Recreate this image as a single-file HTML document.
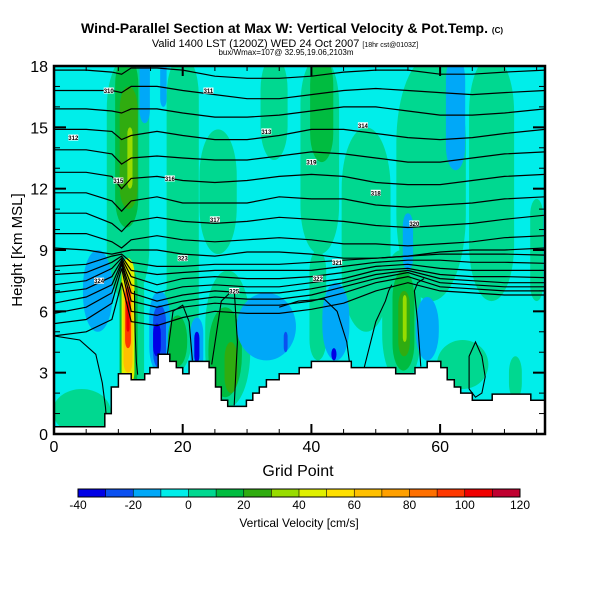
<!DOCTYPE html>
<html><head><meta charset="utf-8"><style>
body{margin:0;background:#fff;}
svg{display:block;font-family:"Liberation Sans",Arial,sans-serif;}
</style></head><body>
<svg id="chart" width="600" height="600" viewBox="0 0 600 600">
<text x="292" y="33" text-anchor="middle" font-size="14" font-weight="bold">Wind-Parallel Section at Max W: Vertical Velocity &amp; Pot.Temp. <tspan font-size="8">(C)</tspan></text>
<text x="285" y="47" text-anchor="middle" font-size="11">Valid 1400 LST (1200Z) WED 24 Oct 2007 <tspan font-size="7">[18hr cst@0103Z]</tspan></text>
<text x="286" y="55" text-anchor="middle" font-size="8">bux/Wmax=107@ 32.95,19.06,2103m</text>
<defs><clipPath id="pc"><rect x="54" y="66" width="491" height="368"/></clipPath></defs>
<g id="plot" clip-path="url(#pc)"></g>
<g id="axes"></g>
<g id="cbar"></g>
<text x="298" y="476" text-anchor="middle" font-size="16">Grid Point</text>
<text transform="translate(22,250) rotate(-90)" text-anchor="middle" font-size="15">Height [Km MSL]</text>
<text x="299" y="527" text-anchor="middle" font-size="12">Vertical Velocity [cm/s]</text>
</svg>
<script>
// ---- data ----
const cbLevels = [-40,-30,-20,-10,0,10,20,30,40,50,60,70,80,90,100,110,120];
const cbColors = ["#0000e6","#0a50f0","#00a8f8","#00eeea","#00d890","#00bc40","#30ac10","#98dc00","#e0f000","#ffe000","#ffc000","#ffa000","#ff7000","#ff3800","#f00000","#c00030"];
const cbTicks = [-40,-20,0,20,40,60,80,100,120];
const xTicks = [0,20,40,60];
const yTicks = [0,3,6,9,12,15,18];
// vertical-velocity features: center grid point, half width, bottom km, top km, value cm/s
const featX   = [11.5,11.3,11.6,11.8,14.1,17,20,25.5,34.2,41.3,41.6,48.5,58.6,62.4,68,55,75,6.8,12.1,11.6,11.5,11.5,11.5,11.5,4.3,16.4,16.4,16,19,19.2,22.2,22.2,27,26.6,27.5,33,36,54,54.3,54.4,54.5,58,43.8,43.5,63.5,71.7,41];
const featW   = [3.3,1.8,1.4,0.4,0.8,0.5,2.5,2.9,2.1,3,1.8,3.8,5.4,1.5,3.5,0.8,1,2.3,1.9,1.4,1.0,0.7,0.45,0.25,4.5,1.6,1,0.6,2.5,1.5,1.0,0.4,3.5,2.6,1,4.6,0.3,3,1.7,0.9,0.3,1.8,2.1,0.4,4,1,1.3];
const featBot = [6.5,10.1,11,12,15.2,16,4,8.8,13.4,8.8,13.3,5,6.5,12.9,6.5,8,6.5,5,0,2,2.3,3,4.2,5,0,3,3.2,3.8,3,3.3,3,3.5,1.3,1.8,2,3.6,4,2.5,3.1,3.8,4.5,3.6,3.6,3.6,2.2,1.7,3.6];
const featTop = [18.5,18.5,17,15,18.5,18.5,18.5,14.9,18.5,18.5,18.5,15,18.5,18.5,18.5,10.8,11.5,9,8.5,8.2,8.6,7.5,7.2,6.5,2.2,7,6.3,5.4,7.5,5.8,5.7,5,8,6.2,4.5,6.9,5,9,8,7,6.8,6.7,7.4,4.2,4.6,3.8,9];
const featVal = [5,15,25,35,-15,-15,5,5,5,5,15,5,5,-15,5,-15,5,-15,5,15,45,65,95,105,5,-15,-25,-35,5,15,-15,-35,5,15,25,-15,-25,5,15,25,35,-15,-15,-35,5,5,5];
// terrain steps: start grid point, height km
const terrG = [0,7.9,8.9,10,12,14.1,14.9,16.2,18,19,20,21,24.1,25.1,26,27,29.9,30.9,31.9,33,35,38.1,40,46.2,53.1,56.1,58,60.1,61.1,62.2,63.2,65,68.1,74.1];
const terrH = [0.35,1.0,2.3,2.95,2.65,2.95,3.25,3.9,3.55,3.25,2.95,3.55,3.25,2.3,1.65,1.35,1.65,2.0,2.3,2.65,2.95,3.25,3.55,3.25,2.95,3.25,3.55,3.25,2.65,2.3,2.0,1.65,1.95,1.65];
// potential temperature contours: heights (km) at grid points thetaG
const thetaG = [0,5,9,10.5,12,16,20,25,30,35,40,45,50,55,60,65,70,76.3];
const theta1 = [17.8,17.8,17.7,17.6,17.9,17.9,17.8,17.5,17.4,17.4,17.5,17.7,17.8,17.8,17.6,17.6,17.7,17.8];
const theta2 = [16.8,16.8,16.8,16.7,17.0,17.0,16.8,16.6,16.4,16.4,16.6,16.8,16.9,16.8,16.7,16.6,16.7,16.8];
const theta3 = [15.9,15.9,15.8,15.7,15.9,15.9,15.7,15.5,15.5,15.6,15.8,16.0,16.0,15.8,15.6,15.6,15.7,15.9];
const theta4 = [14.9,14.9,14.8,14.4,14.6,14.8,14.6,14.4,14.4,14.6,14.9,14.9,14.7,14.5,14.4,14.5,14.7,14.9];
const theta5 = [13.9,13.9,13.7,13.2,13.5,13.6,13.5,13.4,13.4,13.6,13.8,13.7,13.5,13.3,13.3,13.5,13.7,13.8];
const theta6 = [12.8,12.8,12.6,12.0,12.5,12.6,12.4,12.3,12.4,12.6,12.7,12.6,12.3,12.2,12.2,12.4,12.6,12.7];
const theta7 = [11.8,11.8,11.4,10.9,11.4,11.6,11.3,11.3,11.3,11.6,11.5,11.5,11.2,11.1,11.2,11.3,11.5,11.6];
const theta8 = [10.8,10.8,10.3,9.9,10.4,10.6,10.4,10.3,10.4,10.6,10.5,10.4,10.2,10.1,10.2,10.3,10.5,10.7];
const theta9 = [9.8,9.8,9.4,9.1,9.5,9.7,9.5,9.4,9.5,9.6,9.5,9.3,9.3,9.2,9.3,9.4,9.6,9.7];
const theta10 = [9.1,9.0,8.8,8.9,9.0,9.0,8.8,8.7,8.9,8.9,8.8,8.6,8.6,8.7,8.9,9.0,9.0,9.1];
const theta11 = [8.2,8.3,8.7,8.8,8.4,8.2,8.2,8.3,8.3,8.3,8.4,8.5,8.6,8.7,8.8,8.8,8.8,8.75];
const theta12 = [7.8,7.9,8.4,8.7,8.0,7.8,7.9,8.0,8.0,8.0,8.0,8.2,8.4,8.5,8.5,8.4,8.4,8.35];
const theta13 = [7.3,7.5,8.1,8.6,7.7,7.3,7.6,7.7,7.6,7.6,7.7,7.9,8.2,8.3,8.1,8.0,8.0,8.0];
const theta14 = [6.9,7.1,7.7,8.5,7.3,6.9,7.2,7.3,7.2,7.2,7.4,7.6,8.0,8.1,7.8,7.7,7.7,7.65];
const theta15 = [6.4,6.7,7.3,8.4,6.9,6.5,6.8,7.0,6.9,6.9,7.1,7.4,7.8,8.0,7.6,7.5,7.4,7.4];
const theta16 = [5.9,6.2,6.9,8.3,6.5,6.2,6.5,6.7,6.6,6.6,6.8,7.2,7.6,7.9,7.4,7.3,7.2,7.2];
const theta17 = [5.4,5.6,6.4,8.1,6.0,5.8,6.2,6.4,6.3,6.3,6.5,6.9,7.4,7.7,7.2,7.1,7.0,7.0];
const theta18 = [4.8,5.0,5.6,7.4,5.5,5.3,5.7,6.0,5.9,5.9,6.1,6.4,7.0,7.4,7.0,6.9,6.8,6.8];
const thetaLines = [theta1,theta2,theta3,theta4,theta5,theta6,theta7,theta8,theta9,theta10,theta11,theta12,theta13,theta14,theta15,theta16,theta17,theta18];
// lower closed contours (grid point / km pairs)
const lowCurveG = [[0,4,6.5,7.5,8,8.2],[12.5,12.6,12.8,13],[17.5,18.5,20,21,21.5],[24.5,26,28,28.5,28],[35,38,42,44,45.5,46],[48,50,51.5,52,52.5],[57,56.5,56,56.5,57.5],[64.5,65.5,66.5,67,66.5,65.5,64.5,64.5]];
const lowCurveH = [[4.8,4.6,3.9,2.5,1.3,0.5],[7,5,3.5,2.9],[3.6,6.0,6.3,5.5,3.6],[3.4,6.5,7.1,4.5,1.4],[6.2,6.5,6.6,6.0,4.5,3.3],[3.0,5.5,6.5,7.0,7.3],[3.3,5.5,7,7.4,7.6],[2.2,1.8,2.0,2.8,3.8,4.5,3.8,2.2]];

// ---- scales ----
const X0=54, X1=545, Y0=434, Y1=66, GMAX=76.3, HMAX=18;
const sx = g => X0 + g*(X1-X0)/GMAX;
const sy = h => Y0 - h*(Y0-Y1)/HMAX;
const cbx = v => 78 + (v+40)*(520-78)/160;
const NS="http://www.w3.org/2000/svg";
function mk(tag, attrs, parent){const e=document.createElementNS(NS,tag);for(const k in attrs)e.setAttribute(k,attrs[k]);parent.appendChild(e);return e;}
function colorFor(v){for(let i=0;i<cbColors.length;i++){if(v<cbLevels[i+1])return cbColors[i];}return cbColors[cbColors.length-1];}

const plot=document.getElementById('plot');
const bg=mk('rect',{x:X0,y:Y1,width:X1-X0,height:Y0-Y1,fill:"#00eeea"},plot);



const order=featVal.map((v,i)=>i).sort((a,b)=>Math.abs(featVal[a])-Math.abs(featVal[b]));
order.forEach(i=>{
  const cx=sx(featX[i]), rx=sx(featX[i]+featW[i])-cx;
  const yb=sy(featBot[i]), yt=sy(featTop[i]);
  const ry=Math.min((yb-yt)/2, rx*2.5);
  const e=mk('rect',{x:cx-rx,y:yt,width:2*rx,height:yb-yt,rx:rx,ry:ry,fill:colorFor(featVal[i])},plot);
  
  
});

// theta contours
thetaLines.forEach((arr)=>{
  const d=arr.map((h,j)=>(j?'L':'M')+sx(thetaG[j]).toFixed(1)+','+sy(h).toFixed(1)).join(' ');
  const p=mk('path',{d:d,fill:"none",stroke:"#000","stroke-width":1.2},plot);
  
  
});
lowCurveG.forEach((gs,k)=>{
  const d=gs.map((g,j)=>(j?'L':'M')+sx(g).toFixed(1)+','+sy(lowCurveH[k][j]).toFixed(1)).join(' ');
  const p=mk('path',{d:d,fill:"none",stroke:"#000","stroke-width":1.1},plot);
  
  
});

// terrain
let td='M'+sx(0)+','+sy(0);
terrG.forEach((g,i)=>{const gn=(i+1<terrG.length)?terrG[i+1]:GMAX;td+=' L'+sx(g).toFixed(1)+','+sy(terrH[i]).toFixed(1)+' L'+sx(gn).toFixed(1)+','+sy(terrH[i]).toFixed(1);});
td+=' L'+sx(GMAX)+','+sy(0)+' Z';
const terr=mk('path',{d:td,fill:"#fff",stroke:"#000","stroke-width":1.5},plot);



// contour labels
const labG=[8.5,24,3,33,48,10,18,25,50,40,56,44,41,20,7,28];
const labH=[16.8,16.8,14.5,14.8,15.1,12.4,12.5,10.5,11.8,13.3,10.3,8.4,7.6,8.6,7.5,7.0];
labG.forEach((g,i)=>{
  const r=mk('rect',{x:sx(g)-5,y:sy(labH[i])-3,width:10,height:6,fill:"#fff"},plot);
  
  
  const t=mk('text',{x:sx(g),y:sy(labH[i])+2.5,'text-anchor':'middle','font-size':6,'font-weight':'bold'},plot);
  t.textContent='3'+(10+i);
  
  
});

// axes
const ax=document.getElementById('axes');
const fr=mk('rect',{x:X0,y:Y1,width:X1-X0,height:Y0-Y1,fill:"none",stroke:"#000","stroke-width":2.5},ax);


for(let g=0;g<=75;g+=5){
  const major=g%20===0, L=major?10:5;
  mk('line',{x1:sx(g),x2:sx(g),y1:Y0,y2:Y0-L,stroke:"#000","stroke-width":major?2:1},ax);
  mk('line',{x1:sx(g),x2:sx(g),y1:Y1,y2:Y1+L,stroke:"#000","stroke-width":major?2:1},ax);
}
xTicks.forEach(v=>{
  const t=mk('text',{x:sx(v),y:452,'text-anchor':'middle','font-size':16},ax);
  t.textContent=v;
  
  
});
for(let h=0;h<=18;h++){
  const major=h%3===0, L=major?12:6;
  mk('line',{x1:X0,x2:X0+L,y1:sy(h),y2:sy(h),stroke:"#000","stroke-width":major?2:1},ax);
  mk('line',{x1:X1,x2:X1-L,y1:sy(h),y2:sy(h),stroke:"#000","stroke-width":major?2:1},ax);
}
yTicks.forEach(v=>{
  const t=mk('text',{x:48,y:sy(v)+6,'text-anchor':'end','font-size':16},ax);
  t.textContent=v;
  
  
});

// colorbar
const cb=document.getElementById('cbar');
cbColors.forEach((c,i)=>{
  const r=mk('rect',{x:cbx(cbLevels[i]),y:489,width:cbx(cbLevels[i+1])-cbx(cbLevels[i]),height:8,fill:c},cb);
  
  
  mk('line',{x1:cbx(cbLevels[i]),x2:cbx(cbLevels[i]),y1:489,y2:497,stroke:"#000","stroke-width":0.6},cb);
});
mk('rect',{x:78,y:489,width:442,height:8,fill:"none",stroke:"#000","stroke-width":1},cb);
cbTicks.forEach(v=>{
  const t=mk('text',{x:cbx(v),y:509,'text-anchor':'middle','font-size':12},cb);
  t.textContent=v;
  
  
});
</script>
</body></html>
